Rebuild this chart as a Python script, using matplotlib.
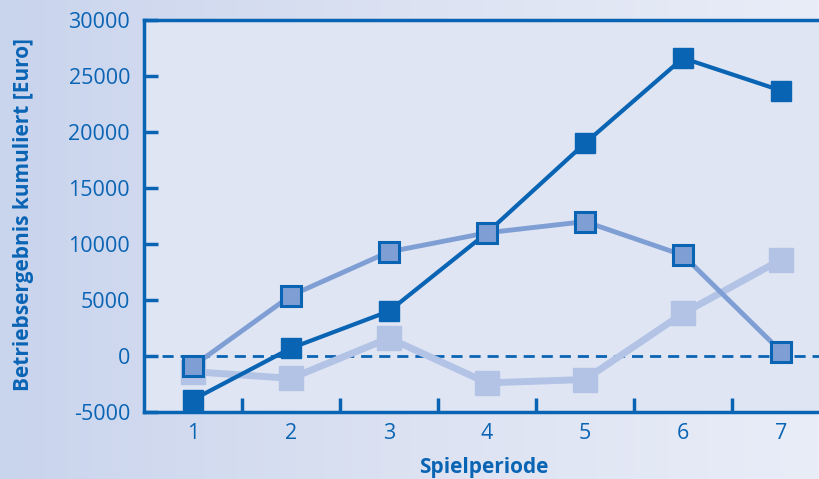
import numpy as np
import matplotlib
matplotlib.use("Agg")
import matplotlib.pyplot as plt
from matplotlib.colors import LinearSegmentedColormap

# Betriebsergebnis kumuliert je Spielperiode
perioden = [1, 2, 3, 4, 5, 6, 7]
team_a = [-3900, 700, 4000, 11000, 19000, 26600, 23700]
team_b = [-900, 5400, 9300, 11000, 12000, 9000, 400]
team_c = [-1400, -2000, 1600, -2400, -2100, 3800, 8600]

yticks = [-5000, 0, 5000, 10000, 15000, 20000, 25000, 30000]

blau = "#0a64b4"
mittel = "#7f9fd4"
hell = "#b2c3e5"

plt.rcParams["font.family"] = ["Open Sans", "DejaVu Sans"]

fig = plt.figure(figsize=(8.2, 4.79), dpi=100)

# horizontaler Verlauf im Hintergrund
bg = fig.add_axes([0, 0, 1, 1], zorder=-10)
cmap = LinearSegmentedColormap.from_list("bg", ["#c9d4ed", "#dce2f2", "#e9edf8"])
bg.imshow(np.linspace(0, 1, 256)[None, :], aspect="auto", cmap=cmap,
          extent=[0, 1, 0, 1])
bg.axis("off")

ax = fig.add_axes([0.1756, 0.1399, 0.8366, 0.8183])
ax.set_facecolor("#dfe5f3")

ax.axhline(0, color=blau, lw=2, ls=(0, (4, 2.5)), zorder=1)

ax.plot(perioden, team_c, color=hell, lw=5, marker="s", ms=17,
        mfc=hell, mec=hell, zorder=2)
ax.plot(perioden, team_a, color=blau, lw=3, marker="s", ms=15,
        mfc=blau, mec=blau, zorder=3)
ax.plot(perioden, team_b, color=mittel, lw=3.5, marker="s", ms=14,
        mfc=mittel, mec=blau, mew=2.2, zorder=4)

ax.set_xlim(0.5, 7.5)
ax.set_ylim(-5000, 30000)
ax.set_yticks(yticks)
ax.set_yticklabels([str(v) for v in yticks])
ax.set_xticks(perioden)
ax.set_xticks([1.5, 2.5, 3.5, 4.5, 5.5, 6.5], minor=True)

ax.tick_params(axis="y", direction="in", length=10, width=2.5, color=blau,
               labelcolor=blau, labelsize=15.5, pad=10)
ax.tick_params(axis="x", which="major", length=0, labelcolor=blau,
               labelsize=15.5, pad=8)
ax.tick_params(axis="x", which="minor", direction="in", length=10,
               width=2.5, color=blau)

for side in ["left", "bottom", "top"]:
    ax.spines[side].set_color(blau)
    ax.spines[side].set_linewidth(2.5)
ax.spines["right"].set_visible(False)

ax.set_xlabel("Spielperiode", color=blau, fontsize=15, fontweight="bold")
ax.set_ylabel("Betriebsergebnis kumuliert [Euro]", color=blau, fontsize=15,
              fontweight="bold")
ax.xaxis.set_label_coords(0.495, -0.115)
ax.yaxis.set_label_coords(-0.16, 0.505)

fig.savefig("out.png", dpi=100)
